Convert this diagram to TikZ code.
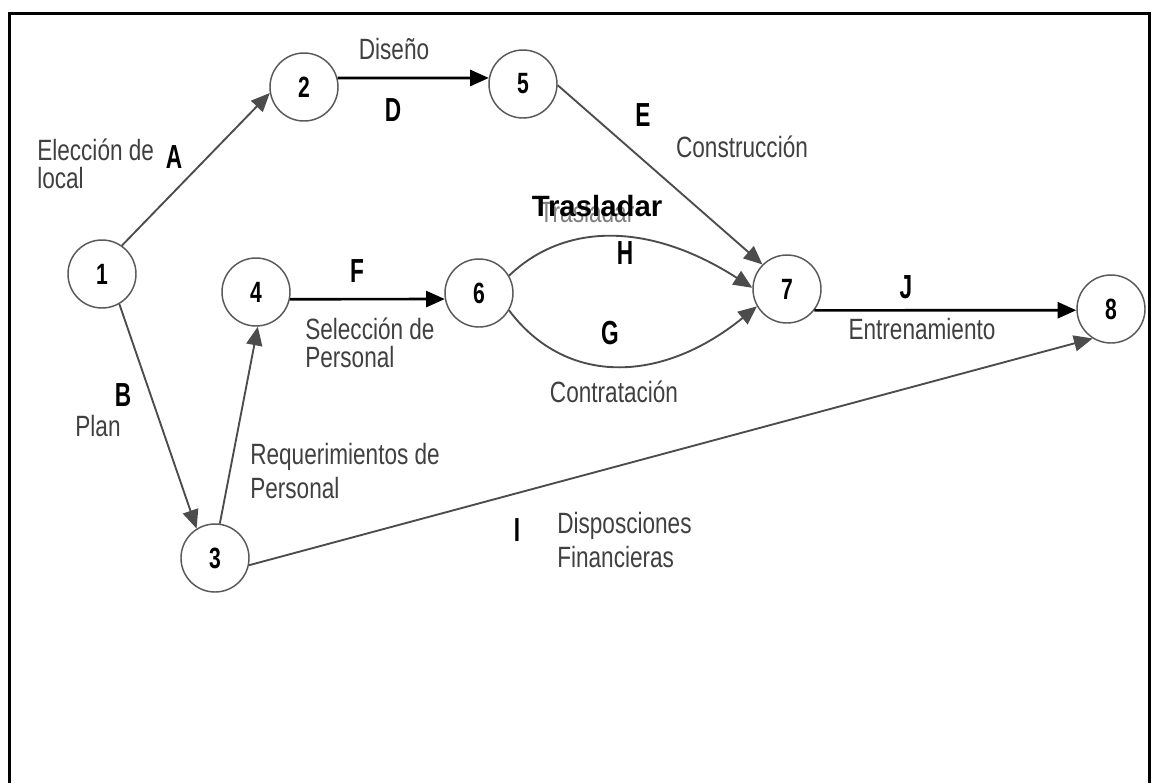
\documentclass[tikz,border=0pt]{standalone}
\usepackage{fontspec}
\usetikzlibrary{arrows.meta}
\newfontfamily\lblfont[FakeStretch=0.77]{Liberation Sans}
\newfontfamily\letfont[FakeStretch=0.68]{Liberation Sans Bold}
\newfontfamily\digfont[FakeStretch=0.72]{Liberation Sans Bold}
\newfontfamily\trfont{Liberation Sans Bold}
\definecolor{lblgray}{gray}{0.25}
\definecolor{linegray}{gray}{0.3}
\definecolor{circgray}{gray}{0.35}
\tikzset{
  evt/.style={circle, draw=circgray, line width=1.1pt, minimum size=51pt, inner sep=0pt, font=\digfont\fontsize{22}{22}\selectfont},
  lbl/.style={text=lblgray, inner sep=0pt, align=left, font=\lblfont\fontsize{22}{21}\selectfont},
  letr/.style={text=black, inner sep=0pt, font=\letfont\fontsize{25}{25}\selectfont},
  act/.style={draw=linegray, line width=1.4pt, -{Triangle[length=14pt,width=12pt]}},
  actb/.style={draw=black, line width=2pt, -{Triangle[length=14pt,width=12pt]}},
  frame/.style={draw=black, line width=2.4pt}
}
\begin{document}
\begin{tikzpicture}[x=0.75pt, y=-0.75pt]
\useasboundingbox (0,0) rectangle (1153,783);
\fill[white] (0,0) rectangle (1153,783);
\draw[frame] (9.5,783) -- (9.5,13.5) -- (1149.5,13.5) -- (1149.5,783);

% events
\node[evt] (n1) at (102,274) {1};
\node[evt] (n2) at (304,87) {2};
\node[evt] (n3) at (215,558) {3};
\node[evt] (n4) at (256,292) {4};
\node[evt] (n5) at (523,84) {5};
\node[evt] (n6) at (479,293) {6};
\node[evt] (n7) at (787,289) {7};
\node[evt] (n8) at (1111,309) {8};

% activities
\draw[act] (n1.55) -- (n2.190);
\draw[actb] (n2.15) -- (n5.170);
\draw[act] (n5.-2) -- (n7.135);
\draw[act] (n1.300) -- (n3.122);
\draw[act] (n3.82) -- (n4.273);
\draw[actb] (n4.-12) -- (n6.190);
\draw[act] (n6.30) .. controls (565,222) and (650,222) .. (n7.178);
\draw[act] (n6.-30) .. controls (565,385) and (660,385) .. (n7.210);
\draw[actb] (n7.-38) -- (n8.182);
\draw[act] (n3.348) -- (n8.238);

% labels
\node[lbl, anchor=west] (telec) at (37,164) {Elección de\\local};
\node[letr] (tA) at (174,157) {A};
\node[lbl] (tdis) at (394,49) {Diseño};
\node[letr] (tD) at (393,110) {D};
\node[letr] (tE) at (643,115) {E};
\node[lbl] (tcons) at (742,147) {Construcción};
\node[lbl, text=gray] (ttras2) at (587,212) {Trasladar};
\node[text=black, inner sep=0pt, font=\trfont\fontsize{22}{22}\selectfont] (ttras) at (597,206) {Trasladar};
\node[letr] (tH) at (625,253) {H};
\node[letr] (tG) at (610,333) {G};
\node[lbl] (tcont) at (614,392) {Contratación};
\node[letr] (tF) at (357,271) {F};
\node[lbl, anchor=west] (tsel) at (305,343) {Selección de\\Personal};
\node[letr] (tJ) at (906,287) {J};
\node[lbl] (tent) at (922,329) {Entrenamiento};
\node[letr] (tB) at (123,395) {B};
\node[lbl] (tplan) at (98,426) {Plan};
\node[lbl, anchor=west] (treq) at (250,471) {Requerimientos de\\[5pt]Personal};
\node[letr] (tI) at (517,530) {I};
\node[lbl, anchor=west] (tdisp) at (557,540) {Disposciones\\[5pt]Financieras};
\end{tikzpicture}
\end{document}
